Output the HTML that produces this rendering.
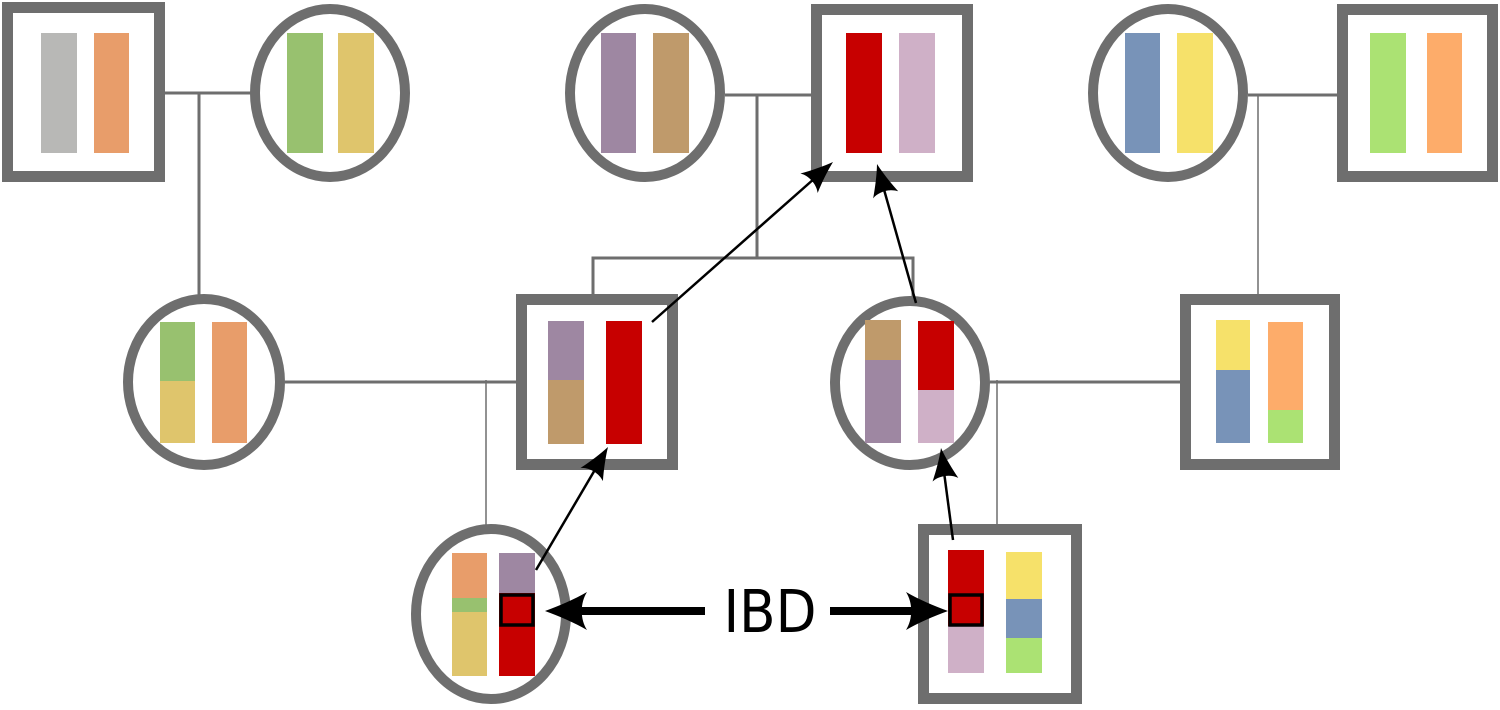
<!DOCTYPE html>
<html><head><meta charset="utf-8"><style>html,body{margin:0;padding:0;background:#fff}svg{display:block}</style></head>
<body>
<svg width="1500" height="710" viewBox="0 0 1500 710" xmlns="http://www.w3.org/2000/svg">
<g stroke="#6e6e6e" fill="none">
<g stroke-width="3">
<line x1="165" y1="93" x2="252" y2="93"/>
<line x1="199" y1="93" x2="199" y2="296"/>
<line x1="725" y1="95" x2="812" y2="95"/>
<line x1="757" y1="95" x2="757" y2="258"/>
<polyline points="593,296 593,258 913,258 913,300"/>
<line x1="1248" y1="95" x2="1338" y2="95"/>
<line x1="285" y1="382" x2="518" y2="382"/>
<line x1="990" y1="382" x2="1182" y2="382"/>
</g>
<g stroke-width="1.5">
<line x1="1258" y1="95" x2="1258" y2="296"/>
<line x1="486" y1="380" x2="486" y2="526"/>
<line x1="997" y1="380" x2="997" y2="526"/>
</g>
</g>
<g stroke="#6e6e6e" stroke-width="11" fill="#fff">
<rect x="7.5" y="7.5" width="152" height="169"/>
<ellipse cx="330" cy="93" rx="75" ry="84" stroke-width="10"/>
<ellipse cx="645" cy="93" rx="75" ry="84" stroke-width="10"/>
<rect x="816.5" y="9.5" width="151" height="167"/>
<ellipse cx="1168" cy="93" rx="75" ry="84" stroke-width="10"/>
<rect x="1342.5" y="9.5" width="150" height="167"/>
<ellipse cx="204" cy="382" rx="76" ry="83" stroke-width="10"/>
<rect x="521.5" y="299.5" width="151" height="165"/>
<ellipse cx="910" cy="383" rx="75" ry="82" stroke-width="10"/>
<rect x="1185.5" y="299.5" width="149" height="165"/>
<ellipse cx="491" cy="614" rx="75" ry="85" stroke-width="10"/>
<rect x="923.5" y="529.5" width="153" height="169"/>
</g>
<g stroke="none">
<rect x="41" y="33" width="36" height="120" fill="#b8b8b6"/>
<rect x="94" y="33" width="35" height="120" fill="#e89d6a"/>
<rect x="287" y="33" width="36" height="120" fill="#98c16f"/>
<rect x="338" y="33" width="36" height="120" fill="#dfc56c"/>
<rect x="601" y="33" width="35" height="120" fill="#9e87a2"/>
<rect x="653" y="33" width="36" height="120" fill="#bf9a6b"/>
<rect x="846" y="33" width="36" height="120" fill="#c70000"/>
<rect x="899" y="33" width="36" height="120" fill="#cfb0c7"/>
<rect x="1125" y="33" width="35" height="120" fill="#7893b8"/>
<rect x="1177" y="33" width="36" height="120" fill="#f6e16a"/>
<rect x="1370" y="33" width="36" height="120" fill="#abe273"/>
<rect x="1427" y="33" width="35" height="120" fill="#fdac6a"/>

<rect x="160" y="322" width="35" height="59" fill="#98c16f"/>
<rect x="160" y="381" width="35" height="62" fill="#dfc56c"/>
<rect x="212" y="322" width="35" height="121" fill="#e89d6a"/>

<rect x="548" y="321" width="36" height="59" fill="#9e87a2"/>
<rect x="548" y="380" width="36" height="64" fill="#bf9a6b"/>
<rect x="606" y="321" width="36" height="123" fill="#c70000"/>

<rect x="865" y="320" width="36" height="40" fill="#bf9a6b"/>
<rect x="865" y="360" width="36" height="83" fill="#9e87a2"/>
<rect x="918" y="321" width="36" height="69" fill="#c70000"/>
<rect x="918" y="390" width="36" height="53" fill="#cfb0c7"/>

<rect x="1216" y="320" width="34" height="50" fill="#f6e16a"/>
<rect x="1216" y="370" width="34" height="73" fill="#7893b8"/>
<rect x="1268" y="322" width="35" height="88" fill="#fdac6a"/>
<rect x="1268" y="410" width="35" height="33" fill="#abe273"/>

<rect x="452" y="553" width="35" height="45" fill="#e89d6a"/>
<rect x="452" y="598" width="35" height="14" fill="#98c16f"/>
<rect x="452" y="612" width="35" height="64" fill="#dfc56c"/>
<rect x="499" y="553" width="36" height="40" fill="#9e87a2"/>
<rect x="499" y="593" width="36" height="83" fill="#c70000"/>

<rect x="948" y="550" width="36" height="76" fill="#c70000"/>
<rect x="948" y="626" width="36" height="47" fill="#cfb0c7"/>
<rect x="1006" y="552" width="36" height="47" fill="#f6e16a"/>
<rect x="1006" y="599" width="36" height="39" fill="#7893b8"/>
<rect x="1006" y="638" width="36" height="35" fill="#abe273"/>
</g>
<rect x="501" y="595" width="32" height="30" fill="#c70000" stroke="#000" stroke-width="3.5"/>
<rect x="950" y="595" width="32" height="30" fill="#c70000" stroke="#000" stroke-width="3.5"/>

<g stroke="#000" stroke-width="2.5" fill="#000">
<line x1="536" y1="570" x2="596" y2="468"/>
<line x1="652" y1="322" x2="815" y2="178"/>
<line x1="916" y1="303" x2="883" y2="186"/>
<line x1="953" y1="540" x2="944" y2="472"/>
</g>
<g fill="#000">
<path d="M0,0 C-10,-3 -22,-8 -32,-13 C-27,-6 -27,6 -32,13 C-22,8 -10,3 0,0 Z" transform="translate(608,447) rotate(-59.4)"/>
<path d="M0,0 C-10,-3 -22,-8 -32,-13 C-27,-6 -27,6 -32,13 C-22,8 -10,3 0,0 Z" transform="translate(833,162) rotate(-41.5)"/>
<path d="M0,0 C-10,-3 -22,-8 -32,-13 C-27,-6 -27,6 -32,13 C-22,8 -10,3 0,0 Z" transform="translate(877,164) rotate(-105.7)"/>
<path d="M0,0 C-10,-3 -22,-8 -32,-13 C-27,-6 -27,6 -32,13 C-22,8 -10,3 0,0 Z" transform="translate(941,448) rotate(-98)"/>
</g>
<g stroke="#000" stroke-width="8">
<line x1="705" y1="611" x2="575" y2="611"/>
<line x1="830" y1="611" x2="920" y2="611"/>
</g>
<g fill="#000">
<path d="M0,0 C-14,-5 -30,-12 -42,-19 C-35,-8 -35,8 -42,19 C-30,12 -14,5 0,0 Z" transform="translate(545,611) rotate(180)"/>
<path d="M0,0 C-14,-5 -30,-12 -42,-19 C-35,-8 -35,8 -42,19 C-30,12 -14,5 0,0 Z" transform="translate(948,611)"/>
</g>
<text x="770" y="632" text-anchor="middle" font-family="'DejaVu Sans','Liberation Sans',sans-serif" font-stretch="condensed" font-size="59" fill="#000">IBD</text>
</svg>
</body></html>
